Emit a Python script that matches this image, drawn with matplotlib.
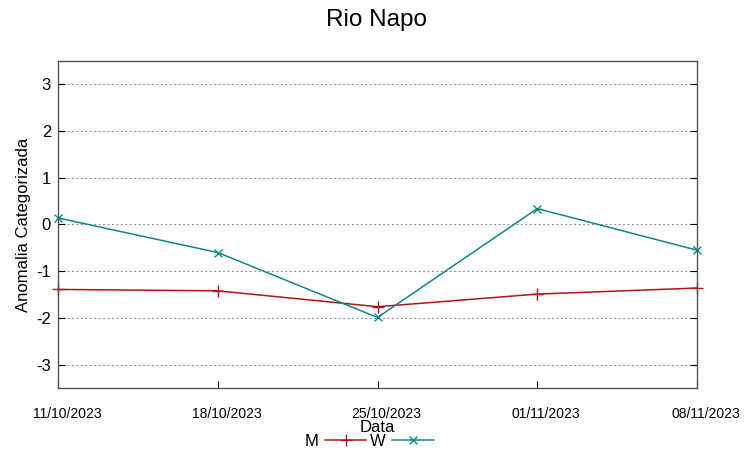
import matplotlib
matplotlib.use("Agg")
import matplotlib.pyplot as plt
import matplotlib.transforms as mtransforms

plt.rcParams['font.family'] = ['Liberation Sans', 'DejaVu Sans']

dates = ["11/10/2023", "18/10/2023", "25/10/2023", "01/11/2023", "08/11/2023"]
m_vals = [-1.39, -1.42, -1.76, -1.49, -1.36]
w_vals = [0.14, -0.60, -1.99, 0.34, -0.55]
yticks = [-3, -2, -1, 0, 1, 2, 3]

fig = plt.figure(figsize=(7.52, 4.58), dpi=100)
ax = fig.add_axes([58/752, 1-388/458, (697-58)/752, (388-61)/458])

x = list(range(len(dates)))
ax.plot(x, m_vals, color='#b01515', marker='+', markersize=8, linewidth=1.1, label='M', clip_on=False)
ax.plot(x, w_vals, color='#108888', marker='x', markersize=6, linewidth=1.1, label='W', clip_on=False)

ax.set_xlim(0, len(dates)-1)
ax.set_ylim(-3.5, 3.5)
ax.set_yticks(yticks)
ax.set_yticklabels([str(v) for v in yticks], fontsize=12)
ax.set_xticks(x)
ax.set_xticklabels(dates, fontsize=10)
ax.tick_params(axis='x', direction='in', length=5, pad=13.5)
ax.tick_params(axis='y', direction='in', length=5, pad=5, right=True)
offset = mtransforms.ScaledTranslation(9/100, 0, fig.dpi_scale_trans)
for lbl in ax.get_xticklabels():
    lbl.set_transform(lbl.get_transform() + offset)
ax.grid(axis='y', linestyle=(0, (2, 2)), color='#999999', linewidth=0.8)
for s in ax.spines.values():
    s.set_color('#555555')
    s.set_linewidth(1.0)

ax.set_ylabel('Anomalia Categorizada', fontsize=12, labelpad=4)
fig.text(377/752, 1-428/458, 'Data', ha='center', va='center', fontsize=12)
fig.suptitle('Rio Napo', fontsize=17.5, y=1-20/458, va='center')

leg = fig.legend(loc='center', bbox_to_anchor=(369/752, 1-441/458), ncol=2, frameon=False,
                 fontsize=12, markerfirst=False, handlelength=2.5, columnspacing=0.2,
                 handletextpad=0.4, borderpad=0)

fig.savefig('out.png', dpi=100)
